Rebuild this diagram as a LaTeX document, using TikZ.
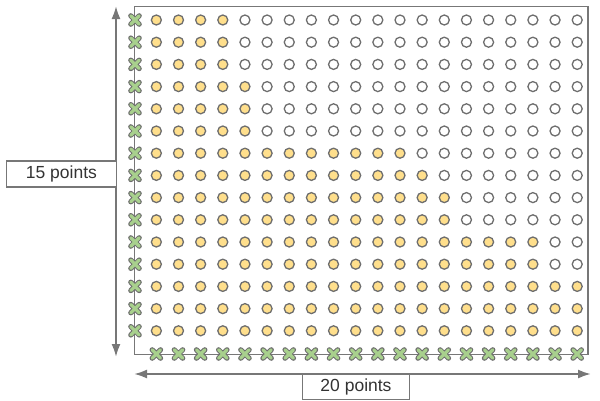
\documentclass[tikz,border=0pt]{standalone}
\usepackage{fontspec}
\setmainfont{Liberation Sans}
\usetikzlibrary{arrows.meta}
\definecolor{framegray}{HTML}{777777}
\definecolor{dotline}{HTML}{6E6E6E}
\definecolor{dotfill}{HTML}{FFDF8C}
\definecolor{xgreen}{HTML}{A8D08D}
\definecolor{txt}{HTML}{333333}
\tikzset{
  dotnode/.style={circle, draw=dotline, line width=1.3pt, minimum size=10pt, inner sep=0pt},
  ondot/.style={dotnode, fill=dotfill},
  offdot/.style={dotnode, fill=white},
  xnode/.style={rectangle, minimum size=8pt, inner sep=0pt},
  xout/.style={draw=dotline, line width=5.2pt, line cap=round},
  xin/.style={draw=xgreen, line width=3.2pt, line cap=round},
  dimarrow/.style={draw=framegray, line width=2pt, {Latex[length=13pt,width=9pt]}-{Latex[length=13pt,width=9pt]}},
  lbl/.style={draw=framegray, line width=1.2pt, fill=white, text=txt, font=\fontsize{17.5}{20}\selectfont, inner sep=0pt},
}
\begin{document}
\begin{tikzpicture}[x=1pt,y=-1pt]
\useasboundingbox (0,0) rectangle (600,400);
% frame
\coordinate (ftl) at (134.5,6.5);
\coordinate (fbr) at (588,354.5);
\draw[framegray, line width=1.5pt] (ftl) rectangle (fbr);
% dots
\foreach \j/\n in {1/4,2/4,3/4,4/5,5/5,6/5,7/12,8/13,9/14,10/14,11/18,12/18,13/20,14/20,15/20}{
  \foreach \i in {1,...,20}{
    \ifnum\i>\n
      \node[offdot] (p-\i-\j) at ({134.2+\i*22.15},{20+(\j-1)*22.2}) {};
    \else
      \node[ondot] (p-\i-\j) at ({134.2+\i*22.15},{20+(\j-1)*22.2}) {};
    \fi
  }
}
% left crosses
\foreach \j in {1,...,15}{
  \node[xnode] (l-\j) at (135,{20+(\j-1)*22.2}) {};
  \draw[xout] (l-\j.north west) -- (l-\j.south east) (l-\j.north east) -- (l-\j.south west);
  \draw[xin] (l-\j.north west) -- (l-\j.south east) (l-\j.north east) -- (l-\j.south west);
}
% bottom crosses
\foreach \i in {1,...,20}{
  \node[xnode] (b-\i) at ({134.2+\i*22.15},354) {};
  \draw[xout] (b-\i.north west) -- (b-\i.south east) (b-\i.north east) -- (b-\i.south west);
  \draw[xin] (b-\i.north west) -- (b-\i.south east) (b-\i.north east) -- (b-\i.south west);
}
% dimension arrows
\coordinate (vt) at (116,6);
\coordinate (vb) at (116,357);
\draw[dimarrow] (vt) -- (vb);
\coordinate (hl) at (134,374);
\coordinate (hr) at (591,374);
\draw[dimarrow] (hl) -- (hr);
% labels
\node[lbl, anchor=east, minimum width=110pt, minimum height=26pt] (lv) at (117,174) {15 points};
\node[lbl, anchor=north, minimum width=107pt, minimum height=25.5pt] (lh) at (356,373.5) {20 points};
\end{tikzpicture}
\end{document}
